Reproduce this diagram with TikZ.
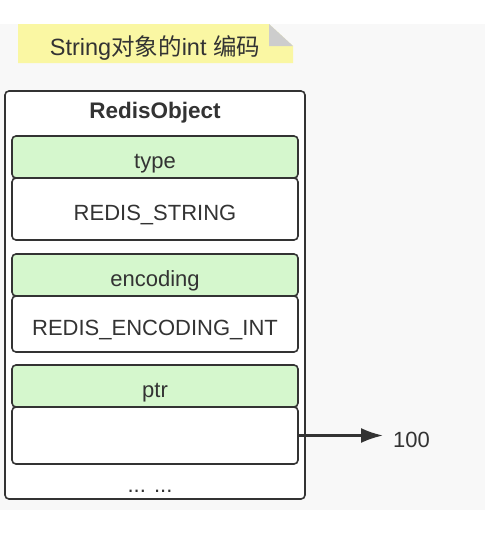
\documentclass[tikz,border=0pt]{standalone}
\usepackage{fontspec}
\setmainfont{Liberation Sans}
\newfontfamily\cjk{Noto Sans CJK SC}
\usetikzlibrary{positioning,arrows,arrows.meta}
\pgfdeclarelayer{background}
\pgfsetlayers{background,main}
\definecolor{fieldgreen}{RGB}{213,247,205}
\definecolor{noteyellow}{RGB}{250,247,163}
\definecolor{foldgrey}{RGB}{205,205,205}
\definecolor{bggrey}{RGB}{248,248,248}
\definecolor{ink}{RGB}{51,51,51}
\begin{document}
\begin{tikzpicture}[x=1pt,y=-1pt,
		every node/.style={text=ink, font=\fontsize{22}{26}\selectfont},
		field/.style={draw=ink, line width=1.6pt, rounded corners=4pt, minimum width=286pt, inner sep=0pt, outer sep=0pt, text height=22pt, text depth=0pt},
		key/.style={field, fill=fieldgreen, minimum height=42pt},
		val/.style={field, fill=white},
		node distance=0pt,
		>={Latex[length=22pt,width=15pt]}]
	\useasboundingbox (0,0) rectangle (485,533);
	
	\fill[noteyellow] (18,24) -- (269,24) -- (293,46) -- (293,63) -- (18,63) -- cycle;
	\fill[foldgrey] (269,24) -- (269,46) -- (293,46) -- cycle;
	\node[anchor=base, font=\fontsize{23.5}{28}\selectfont] (title) at (155,55) {String{\cjk 对象的}int {\cjk 编码}};
	
	\node[draw=ink, line width=1.6pt, rounded corners=4pt, fill=white, minimum width=300pt, minimum height=408pt] (obj) at (155,295) {};
	\node[anchor=base, font=\fontsize{22.5}{26}\selectfont\bfseries] (objname) at (155,118) {RedisObject};
	
	\node[key] (type) at (155,157) {type};
	\node[val, below=of type, minimum height=62pt] (typeval) {REDIS\_STRING};
	\node[key, below=14pt of typeval] (enc) {encoding};
	\node[val, below=of enc, minimum height=56pt] (encval) {REDIS\_ENCODING\_INT};
	\node[key, below=13pt of encval] (ptr) {ptr};
	\node[val, below=of ptr, minimum height=57pt] (ptrval) {};
	\node[anchor=base] (dots) at (150,492) {... ...};
	
	\node[anchor=base west, inner sep=0pt] (num) at (393,447) {100};
	\draw[->, draw=ink, line width=2.4pt, shorten >=10pt] (ptrval.east) -- (ptrval.east -| num.west);
	
	\begin{pgfonlayer}{background}
		\fill[bggrey] (0,24) rectangle (485,510);
	\end{pgfonlayer}
\end{tikzpicture}
\end{document}
